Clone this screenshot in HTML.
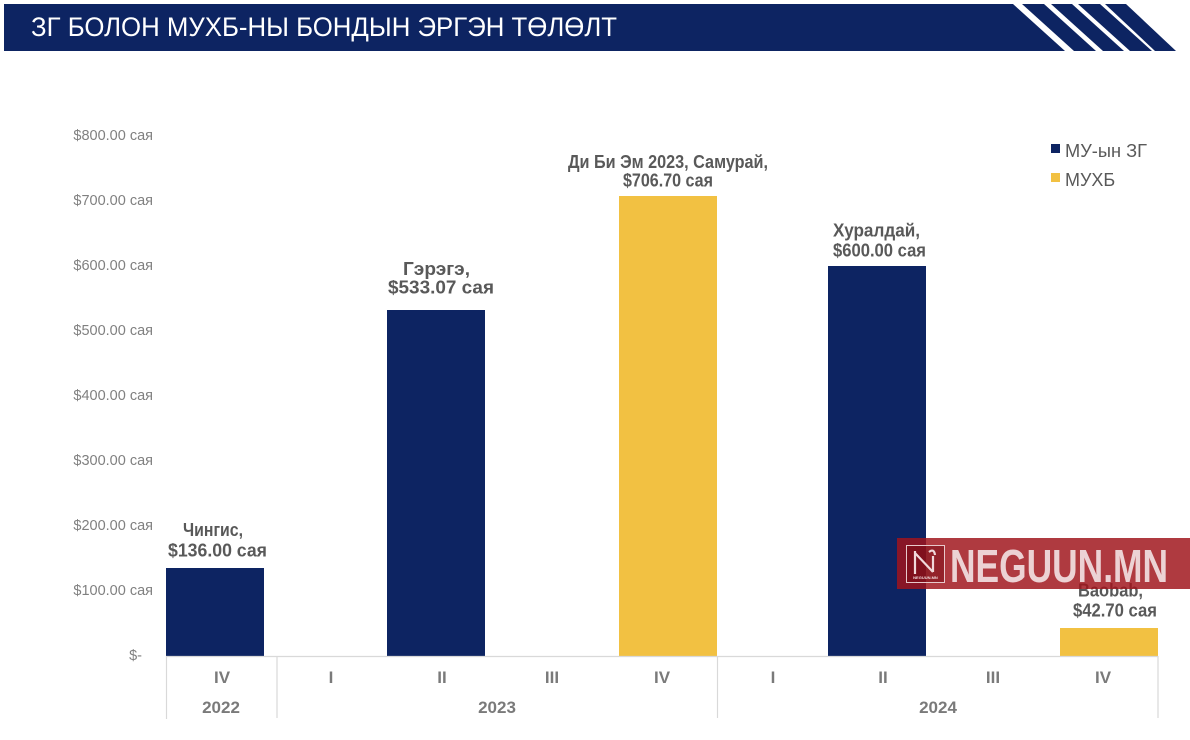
<!DOCTYPE html>
<html>
<head>
<meta charset="utf-8">
<style>
  html, body { margin:0; padding:0; background:#ffffff; }
  body { width:1190px; height:740px; overflow:hidden; }
  svg { display:block; }
  text { font-family: "Liberation Sans", "DejaVu Sans", sans-serif; }
</style>
</head>
<body>
<svg width="1190" height="740" viewBox="0 0 1190 740" xmlns="http://www.w3.org/2000/svg">
  <rect x="0" y="0" width="1190" height="740" fill="#ffffff"/>

  <!-- Header -->
  <polygon points="4,4 1013,4 1065,51 4,51" fill="#0d2462"/>
  <polygon points="1022,4 1044,4 1096,51 1074,51" fill="#0d2462"/>
  <polygon points="1051,4 1072,4 1124,51 1103,51" fill="#0d2462"/>
  <polygon points="1078,4 1100,4 1152,51 1130,51" fill="#0d2462"/>
  <polygon points="1105,4 1126,4 1176,51 1155,51" fill="#0d2462"/>
  <text x="31" y="36" font-size="27" fill="#ffffff" textLength="586" lengthAdjust="spacingAndGlyphs">ЗГ БОЛОН МУХБ-НЫ БОНДЫН ЭРГЭН ТӨЛӨЛТ</text>

  <!-- Y axis tick labels -->
  <g font-size="14.5" fill="#808080" text-anchor="end">
    <text x="153" y="140">$800.00 сая</text>
    <text x="153" y="205">$700.00 сая</text>
    <text x="153" y="270">$600.00 сая</text>
    <text x="153" y="335">$500.00 сая</text>
    <text x="153" y="400">$400.00 сая</text>
    <text x="153" y="465">$300.00 сая</text>
    <text x="153" y="530">$200.00 сая</text>
    <text x="153" y="595">$100.00 сая</text>
    <text x="142" y="660">$-</text>
  </g>

  <!-- Bars -->
  <rect x="166" y="568" width="98" height="88" fill="#0d2462"/>
  <rect x="387" y="310" width="98" height="346" fill="#0d2462"/>
  <rect x="619" y="196" width="98" height="460" fill="#f2c142"/>
  <rect x="828" y="266" width="98" height="390" fill="#0d2462"/>
  <rect x="1060" y="628" width="98" height="28" fill="#f2c142"/>

  <!-- Axis lines -->
  <g stroke="#d9d9d9" stroke-width="1.2" fill="none">
    <line x1="166" y1="656.5" x2="1158" y2="656.5"/>
    <line x1="166.5" y1="656" x2="166.5" y2="719"/>
    <line x1="277" y1="656" x2="277" y2="718"/>
    <line x1="717.5" y1="656" x2="717.5" y2="718"/>
    <line x1="1158" y1="656" x2="1158" y2="718"/>
  </g>

  <!-- Category labels -->
  <g font-size="17" font-weight="bold" fill="#7a7a7a" text-anchor="middle">
    <text x="222" y="683">IV</text>
    <text x="331" y="683">I</text>
    <text x="442" y="683">II</text>
    <text x="552" y="683">III</text>
    <text x="662" y="683">IV</text>
    <text x="773" y="683">I</text>
    <text x="883" y="683">II</text>
    <text x="993" y="683">III</text>
    <text x="1103" y="683">IV</text>
    <text x="221" y="713">2022</text>
    <text x="497" y="713">2023</text>
    <text x="938" y="713">2024</text>
  </g>

  <!-- Data labels -->
  <g font-size="18" font-weight="bold" fill="#595959">
    <text x="183" y="536" textLength="60" lengthAdjust="spacingAndGlyphs">Чингис,</text>
    <text x="168" y="556.5" textLength="99" lengthAdjust="spacingAndGlyphs">$136.00 сая</text>

    <text x="403" y="275" textLength="67" lengthAdjust="spacingAndGlyphs">Гэрэгэ,</text>
    <text x="388" y="293.5" textLength="106" lengthAdjust="spacingAndGlyphs">$533.07 сая</text>

    <text x="568" y="168" textLength="200" lengthAdjust="spacingAndGlyphs">Ди Би Эм 2023, Самурай,</text>
    <text x="623" y="186.5" textLength="90" lengthAdjust="spacingAndGlyphs">$706.70 сая</text>

    <text x="833" y="236.5" textLength="87" lengthAdjust="spacingAndGlyphs">Хуралдай,</text>
    <text x="833" y="256.5" textLength="93" lengthAdjust="spacingAndGlyphs">$600.00 сая</text>

    <text x="1078" y="596.5" textLength="65" lengthAdjust="spacingAndGlyphs">Baobab,</text>
    <text x="1073" y="616.5" textLength="84" lengthAdjust="spacingAndGlyphs">$42.70 сая</text>
  </g>

  <!-- Legend -->
  <rect x="1051" y="144" width="9" height="9" fill="#0d2462"/>
  <text x="1065" y="157" font-size="18" fill="#595959" textLength="82" lengthAdjust="spacingAndGlyphs">МУ-ын ЗГ</text>
  <rect x="1051" y="173" width="9" height="9" fill="#f2c142"/>
  <text x="1065" y="186" font-size="18" fill="#595959">МУХБ</text>

  <!-- Watermark -->
  <rect x="897" y="538" width="293" height="51" fill="rgba(160,20,28,0.84)"/>
  <rect x="906.5" y="545.5" width="38" height="37" fill="rgba(120,10,20,0.5)" stroke="#e8c9cb" stroke-width="1"/>
  <path d="M915 551 L915 574 M915 553 L933 572 M933 572 L933 556 M929 552 Q934 548 935 555" stroke="#f0d8da" stroke-width="2.2" fill="none"/>
  <text x="925.5" y="579" font-size="4" fill="#f0d8da" text-anchor="middle" font-weight="bold">NEGUUN.MN</text>
  <text x="950" y="582" font-size="46" font-weight="bold" fill="#ecd2d4" textLength="218" lengthAdjust="spacingAndGlyphs">NEGUUN.MN</text>
</svg>
</body>
</html>
